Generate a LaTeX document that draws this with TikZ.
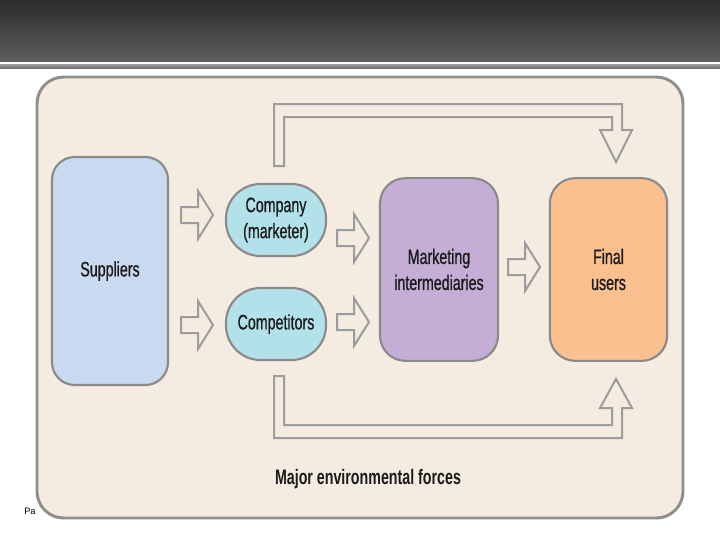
\documentclass[tikz,border=0pt]{standalone}
\usepackage{fontspec}
\setmainfont{Liberation Sans}[FakeStretch=0.68, UprightFeatures={FakeBold=0.7}]
\newfontfamily\pafont{Liberation Sans}
\definecolor{panelfill}{HTML}{F5ECE1}
\definecolor{panelline}{HTML}{8E8E8E}
\definecolor{supfill}{HTML}{C8D9F0}
\definecolor{compfill}{HTML}{B3E1EA}
\definecolor{mifill}{HTML}{C4AED6}
\definecolor{fufill}{HTML}{FBC08F}
\definecolor{boxline}{HTML}{8A8A8A}
\definecolor{arrline}{HTML}{9C9C9C}
\definecolor{bartop}{HTML}{2C2C2C}
\definecolor{barbot}{HTML}{5E5E5E}
\definecolor{txt}{HTML}{1A1A1A}
\tikzset{
  boxstyle/.style={draw=boxline, line width=1.6pt, align=center, text=txt, font=\fontsize{15.7}{19.5}\selectfont, inner sep=0pt},
  arrowline/.style={draw=arrline, line width=1.5pt, fill=panelfill, line join=miter},
  pics/blockarrow/.style={code={\draw[arrowline] (0,-8)--(17,-8)--(17,-24)--(32,0)--(17,24)--(17,8)--(0,8)--cycle;}}
}
\begin{document}
\begin{tikzpicture}[x=0.75pt,y=-0.75pt]
\useasboundingbox (0,0) rectangle (720,540);
\fill[white] (0,0) rectangle (720,540);
% top bar
\shade[top color=bartop, bottom color=barbot] (0,0) rectangle (720,62);
\fill[white] (0,62) rectangle (720,64.5);
\shade[top color=black!40, bottom color=black!55] (0,64.5) rectangle (720,68);
% panel
\draw[draw=panelline, line width=2.2pt, fill=panelfill, rounded corners=20pt] (37,77) rectangle (683,518);
% nodes
\node[boxstyle, fill=supfill, rounded corners=17pt, minimum width=87pt, minimum height=171pt] (sup) at (110,271) {Suppliers};
\node[boxstyle, fill=compfill, rounded corners=26pt, minimum width=75pt, minimum height=54pt] (comp) at (276,220) {Company\\(marketer)};
\node[boxstyle, fill=compfill, rounded corners=26pt, minimum width=75pt, minimum height=54pt] (compet) at (276,324) {Competitors};
\node[boxstyle, fill=mifill, rounded corners=19pt, minimum width=88.5pt, minimum height=137pt] (mi) at (439,269.5) {Marketing\\intermediaries};
\node[boxstyle, fill=fufill, rounded corners=19pt, minimum width=88pt, minimum height=137pt] (fu) at (608.5,269.5) {Final\\users};
% block arrows
\pic at (181,215) {blockarrow};
\pic at (181,325) {blockarrow};
\pic at (337,238) {blockarrow};
\pic at (337,322) {blockarrow};
\pic at (508,267) {blockarrow};
% bypass arrows
\draw[arrowline] (274,166) -- (274,104) -- (622,104) -- (622,130) -- (632,130) -- (616,162) -- (600,130) -- (612,130) -- (612,117) -- (284,117) -- (284,166) -- cycle;
\draw[arrowline] (274,376) -- (274,438) -- (622,438) -- (622,408) -- (632,408) -- (616,379) -- (600,408) -- (612,408) -- (612,425) -- (284,425) -- (284,376) -- cycle;
% label
\node[text=txt, font=\bfseries\fontsize{15.7}{19}\selectfont] (forces) at (368,479) {Major environmental forces};
\node[font=\pafont\fontsize{7}{8}\selectfont, anchor=west, inner sep=0pt] (pa) at (24,511) {Pa};
\end{tikzpicture}
\end{document}
